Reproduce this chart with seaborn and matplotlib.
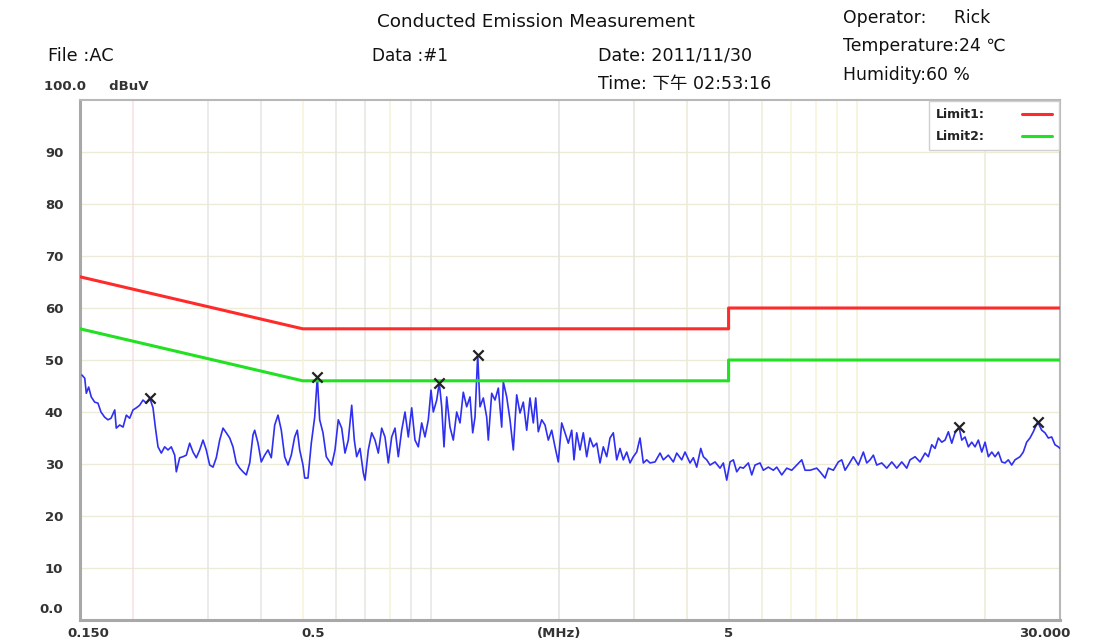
import numpy as np
import pandas as pd
import seaborn as sns
import matplotlib
matplotlib.use("Agg")
import matplotlib.pyplot as plt
import matplotlib.transforms as mtransforms

# ---------------- data ----------------
trace_freq = [
    0.1516, 0.1539, 0.1552, 0.1572, 0.1594, 0.1624, 0.1653, 0.1680, 0.1714, 0.1745,
    0.1774, 0.1810, 0.1825, 0.1859, 0.1893, 0.1927, 0.1962, 0.1998, 0.2034, 0.2071,
    0.2109, 0.2147, 0.2187, 0.2226, 0.2254, 0.2287, 0.2328, 0.2371, 0.2414, 0.2457,
    0.2503, 0.2525, 0.2571, 0.2618, 0.2665, 0.2714, 0.2763, 0.2813, 0.2865, 0.2917,
    0.2969, 0.3024, 0.3079, 0.3134, 0.3192, 0.3250, 0.3308, 0.3370, 0.3430, 0.3492,
    0.3557, 0.3621, 0.3686, 0.3755, 0.3822, 0.3857, 0.3927, 0.3997, 0.4071, 0.4145,
    0.4219, 0.4298, 0.4375, 0.4454, 0.4536, 0.4618, 0.4701, 0.4788, 0.4856, 0.4920,
    0.5008, 0.5055, 0.5145, 0.5238, 0.5335, 0.5411, 0.5481, 0.5580, 0.5681,
    0.5849, 0.5954, 0.6061, 0.6174, 0.6285, 0.6398, 0.6517, 0.6609, 0.6695, 0.6816,
    0.6939, 0.7003, 0.7129, 0.7261, 0.7392, 0.7525, 0.7664, 0.7802, 0.7943, 0.8090,
    0.8236, 0.8384, 0.8540, 0.8693, 0.8850, 0.9014, 0.9176, 0.9342, 0.9515, 0.9686,
    0.9861, 1.0006, 1.0131, 1.0319, 1.0465, 1.0601, 1.0734, 1.0892, 1.1088, 1.1287,
    1.1497, 1.1704, 1.1914, 1.2135, 1.2354, 1.2536, 1.2692, 1.2879, 1.3040, 1.3275,
    1.3521, 1.3639, 1.3892, 1.4142, 1.4397, 1.4664, 1.4791, 1.5065, 1.5337, 1.5613,
    1.5902, 1.6189, 1.6480, 1.6786, 1.7088, 1.7396, 1.7623, 1.7872, 1.8204, 1.8532,
    1.8865, 1.9215, 1.9561, 1.9913, 2.0283, 2.0648, 2.1020, 2.1410,
    2.1678, 2.1996, 2.2392, 2.2796, 2.3219, 2.3636, 2.4062, 2.4509, 2.4950, 2.5399,
    2.5871, 2.6336, 2.6810, 2.7308, 2.7800, 2.8301, 2.8826, 2.9345, 2.9873, 3.0428,
    3.0975, 3.1533, 3.2118, 3.2696, 3.3593, 3.4514, 3.5135, 3.6098, 3.7088, 3.7776,
    3.8811, 3.9510, 4.0592, 4.1324, 4.2090, 4.3011, 4.3620, 4.4429, 4.5230, 4.6469,
    4.7742, 4.8602, 4.9503, 5.0394, 5.1302, 5.2253, 5.3195, 5.4152, 5.5637, 5.6669,
    5.7689, 5.9270, 6.0336, 6.1989, 6.3689, 6.4871, 6.6648, 6.8475, 7.0352, 7.2279,
    7.4261, 7.5597, 7.7669, 8.0535,
    8.1984, 8.4231, 8.5748, 8.8097, 9.0512, 9.2190, 9.3850, 9.5540, 9.8157, 10.085,
    10.361, 10.553, 10.743, 10.937, 11.139, 11.445, 11.758, 12.081, 12.412, 12.752,
    13.101, 13.337, 13.702, 14.078, 14.464, 14.724, 14.997, 15.267, 15.542, 15.830,
    16.115, 16.406, 16.710, 17.010, 17.382, 17.638, 17.955, 18.279, 18.618, 18.953,
    19.295, 19.653, 20.007, 20.367, 20.745, 21.119, 21.500, 21.899, 22.283, 22.685,
    23.105, 23.522, 24.165, 24.600, 25.056, 25.508, 25.967, 26.592, 27.173, 27.663,
    28.161, 28.683, 29.199, 29.724, 30.000,
]
trace_level = [
    47.1, 46.5, 43.6, 44.8, 42.9, 41.9, 41.7, 40.0, 39.0, 38.5,
    38.8, 40.4, 36.9, 37.5, 37.1, 39.4, 38.8, 40.4, 40.8, 41.3,
    42.3, 41.7, 42.7, 40.8, 37.1, 33.3, 32.1, 33.3, 32.7, 33.3,
    31.7, 28.5, 31.2, 31.4, 31.7, 34.0, 32.3, 31.2, 32.7, 34.6,
    32.7, 29.8, 29.4, 31.2, 34.6, 36.9, 36.0, 35.0, 33.3, 30.2,
    29.2, 28.5, 27.9, 30.2, 35.6, 36.5, 34.0, 30.4, 31.7, 32.7,
    31.2, 37.5, 39.4, 36.5, 31.4, 29.8, 31.7, 35.2, 36.5, 32.7,
    29.8, 27.3, 27.3, 34.0, 39.0, 46.7, 38.5, 36.0, 31.4,
    29.8, 32.7, 38.5, 36.9, 32.1, 34.6, 41.3, 34.6, 31.4, 33.0,
    28.3, 26.9, 32.7, 36.0, 34.6, 32.1, 36.9, 35.2, 30.2, 35.2,
    36.9, 31.4, 36.5, 40.0, 35.2, 40.8, 34.6, 33.3, 37.9, 35.2,
    38.5, 44.2, 40.0, 42.3, 45.6, 41.0, 33.3, 42.9, 37.1, 34.6,
    40.0, 37.9, 43.8, 41.0, 42.9, 36.0, 39.0, 51.0, 41.0, 42.7,
    39.0, 34.6, 43.6, 42.3, 44.6, 37.1, 45.8, 42.9, 38.5, 32.7,
    43.3, 39.8, 41.9, 36.5, 42.7, 37.9, 42.7, 36.2, 38.5, 37.5,
    34.6, 36.5, 33.3, 30.4, 37.9, 36.0, 34.0, 36.5,
    30.8, 36.0, 32.7, 36.0, 31.4, 35.0, 33.3, 34.0, 30.2, 33.3,
    31.4, 35.0, 36.0, 30.8, 33.0, 30.8, 32.3, 30.2, 31.4, 32.3,
    35.0, 30.2, 30.8, 30.2, 30.4, 32.1, 30.8, 31.7, 30.4, 32.1,
    30.8, 32.3, 30.2, 31.2, 29.4, 33.0, 31.4, 30.8, 29.8, 30.4,
    29.2, 30.2, 26.9, 30.4, 30.8, 28.5, 29.4, 29.2, 30.2, 27.9,
    29.8, 30.2, 28.8, 29.4, 28.8, 29.4, 27.9, 29.2, 28.8, 29.8,
    30.8, 28.8, 28.8, 29.2,
    28.5, 27.3, 29.2, 28.8, 30.4, 30.8, 28.8, 29.8, 31.4, 29.8,
    32.3, 30.2, 30.8, 31.7, 29.8, 30.2, 29.2, 30.4, 29.2, 30.4,
    29.2, 30.8, 31.4, 30.4, 32.1, 31.4, 33.7, 33.0, 35.0, 34.2,
    34.6, 36.2, 34.0, 36.0, 37.1, 34.6, 35.2, 33.3, 34.2, 33.3,
    34.6, 32.3, 34.2, 31.4, 32.3, 31.4, 32.3, 30.4, 30.2, 30.8,
    29.8, 30.8, 31.4, 32.3, 34.2, 35.0, 36.2, 38.1, 36.5, 36.0,
    35.0, 35.2, 33.7, 33.3, 33.0,
]

marker_freq = [0.2187, 0.5411, 1.0465, 1.2879, 17.382, 26.592]
marker_level = [42.7, 46.7, 45.6, 51.0, 37.1, 38.1]

limit1_freq = [0.15, 0.5, 5.0, 5.0, 30.0]
limit1_level = [66, 56, 56, 60, 60]
limit2_freq = [0.15, 0.5, 5.0, 5.0, 30.0]
limit2_level = [56, 46, 46, 50, 50]

y_ticks = [0, 10, 20, 30, 40, 50, 60, 70, 80, 90]
y_labels = ["0.0", "10", "20", "30", "40", "50", "60", "70", "80", "90"]
x_ticks = [0.15, 0.5, 2.0, 5.0, 30.0]
x_labels = ["0.150", "0.5", "(MHz)", "5", "30.000"]

grid_freq = [0.2, 0.3, 0.4, 0.5, 0.6, 0.7, 0.8, 0.9, 1, 2, 3, 4, 5, 6, 7, 8, 9, 10, 20]
grid_colors = ["#f5e0e0", "#e6e6e6", "#e6e6e6", "#f6f4d8", "#e6e6e0", "#e6e6e0",
               "#f4f2da", "#e6e6e0", "#e4e4e4", "#e2e2e2", "#e6e6dc", "#ecead4",
               "#e2e2e2", "#eeeed8", "#f5f4d8", "#f6f4d8", "#f6f4d8", "#f2f2d6", "#ebebd6"]

# ---------------- plot ----------------
sns.set_theme(style="white")
plt.rcParams["font.family"] = ["DejaVu Sans", "Noto Sans CJK SC"]

fig = plt.figure(figsize=(11.07, 6.44), dpi=100)
ax = fig.add_axes([80 / 1107, 1 - 620 / 644, 980 / 1107, 520 / 644])
ax.set_xscale("log")
ax.set_xlim(0.15, 30)
ax.set_ylim(0, 100)

for yv in y_ticks[1:]:
    ax.axhline(yv, color="#ebebd8", lw=1.0, zorder=0)
for f, c in zip(grid_freq, grid_colors):
    ax.axvline(f, color=c, lw=1.1, zorder=0)

df_trace = pd.DataFrame({"freq": trace_freq, "level": trace_level})
sns.lineplot(data=df_trace, x="freq", y="level", ax=ax, color="#2f2ff2",
             lw=1.2, sort=False, estimator=None, label="_nolegend_", zorder=3)

df_l1 = pd.DataFrame({"freq": limit1_freq, "level": limit1_level})
df_l2 = pd.DataFrame({"freq": limit2_freq, "level": limit2_level})
sns.lineplot(data=df_l1, x="freq", y="level", ax=ax, color="#ff2a2a", lw=2.2,
             sort=False, estimator=None, label="Limit1:", zorder=4)
sns.lineplot(data=df_l2, x="freq", y="level", ax=ax, color="#22e022", lw=2.2,
             sort=False, estimator=None, label="Limit2:", zorder=4)

df_m = pd.DataFrame({"freq": marker_freq, "level": marker_level})
sns.scatterplot(data=df_m, x="freq", y="level", ax=ax, marker="x", color="#222222",
                s=55, linewidth=1.6, zorder=5, label="_nolegend_")

ax.set_xlabel("")
ax.set_ylabel("")
ax.set_xticks(x_ticks)
ax.set_xticklabels(x_labels)
ax.xaxis.set_minor_locator(matplotlib.ticker.NullLocator())
ax.set_yticks(y_ticks)
ax.set_yticklabels(y_labels)
ax.tick_params(axis="both", length=0, labelsize=9.5, colors="#333333")
ax.tick_params(axis="x", pad=5)
ax.tick_params(axis="y", pad=12)
for lab in ax.get_xticklabels() + ax.get_yticklabels():
    lab.set_fontweight("bold")

# nudge a few labels as in the original
xl = ax.get_xticklabels()
xl[0].set_transform(xl[0].get_transform() + mtransforms.ScaledTranslation(8 / 100, 0, fig.dpi_scale_trans))
xl[-1].set_transform(xl[-1].get_transform() + mtransforms.ScaledTranslation(-15 / 100, 0, fig.dpi_scale_trans))
xl[1].set_transform(xl[1].get_transform() + mtransforms.ScaledTranslation(10 / 100, 0, fig.dpi_scale_trans))
yl = ax.get_yticklabels()
yl[0].set_transform(yl[0].get_transform() + mtransforms.ScaledTranslation(0, 12 / 100, fig.dpi_scale_trans))

for side in ["left", "bottom"]:
    ax.spines[side].set_color("#a8a8a8")
    ax.spines[side].set_linewidth(2.2)
for side in ["top", "right"]:
    ax.spines[side].set_color("#b8b8b8")
    ax.spines[side].set_linewidth(1.5)

leg = ax.legend(loc="upper right", markerfirst=False, frameon=True, fancybox=False,
                edgecolor="#d0d0d0", framealpha=1.0, fontsize=9, handlelength=2.4,
                borderpad=0.55, labelspacing=0.75, handletextpad=3.0,
                borderaxespad=0.1)
for t in leg.get_texts():
    t.set_fontweight("bold")
    t.set_color("#222222")
leg.get_frame().set_linewidth(1.0)

# header texts
tc = "#111111"
fig.text(377 / 1107, 1 - 22 / 644, "Conducted Emission Measurement", fontsize=13.2,
         color=tc, va="center", ha="left")
fig.text(48 / 1107, 1 - 56 / 644, "File :AC", fontsize=12.8, color=tc, va="center")
fig.text(372 / 1107, 1 - 56 / 644, "Data :#1", fontsize=12.2, color=tc, va="center")
fig.text(598 / 1107, 1 - 56 / 644, "Date: 2011/11/30", fontsize=12.6, color=tc, va="center")
fig.text(598 / 1107, 1 - 84 / 644, "Time: 下午 02:53:16", fontsize=12.6, color=tc,
         va="center")
fig.text(843 / 1107, 1 - 18 / 644, "Operator:     Rick", fontsize=12.4, color=tc, va="center")
fig.text(843 / 1107, 1 - 46 / 644, "Temperature:24 ℃", fontsize=12.4, color=tc, va="center")
fig.text(843 / 1107, 1 - 75 / 644, "Humidity:60 %", fontsize=12.4, color=tc, va="center")
fig.text(44 / 1107, 1 - 86 / 644, "100.0     dBuV", fontsize=9.5, fontweight="bold",
         color="#333333", va="center")

fig.savefig("out.png", dpi=100, facecolor="white")
